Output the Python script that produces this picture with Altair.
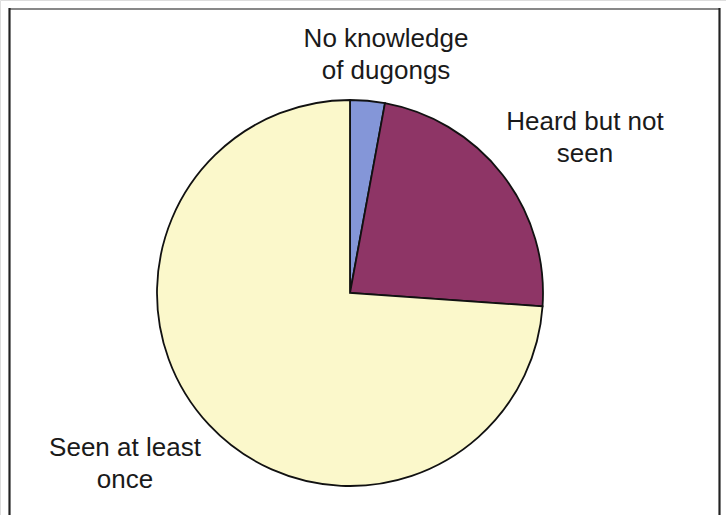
import altair as alt
import pandas as pd

# Survey responses: awareness of dugongs (share of respondents, %)
categories = ["No knowledge of dugongs", "Heard but not seen", "Seen at least once"]
label_lines = ["No knowledge\nof dugongs", "Heard but not\nseen", "Seen at least\nonce"]
shares = [2.9, 23.2, 73.9]
slice_order = [1, 2, 3]
colors = ["#8496d8", "#8e3566", "#fbf8cb"]

df = pd.DataFrame({
    "category": categories,
    "label": label_lines,
    "share": shares,
    "order": slice_order,
})

W, H = 726, 515
CX, CY, R = 350, 293, 193

base = alt.Chart(df)

pie = base.mark_arc(outerRadius=R, stroke="#111111", strokeWidth=1.8).encode(
    theta=alt.Theta("share:Q", stack=True),
    order=alt.Order("order:Q"),
    color=alt.Color("category:N", scale=alt.Scale(domain=categories, range=colors), legend=None),
    x=alt.value(CX),
    y=alt.value(CY),
)

text_style = dict(font="Liberation Sans", fontSize=26, color="#1a1a1a",
                  align="center", baseline="alphabetic", lineBreak="\n", lineHeight=32)

def label(cat, x, y):
    return base.transform_filter(alt.datum.category == cat).mark_text(**text_style).encode(
        text="label:N", x=alt.value(x), y=alt.value(y)
    )

labels = (
    label(categories[0], 386, 47)
    + label(categories[1], 585, 130)
    + label(categories[2], 125, 456)
)

# Frame around the figure
top_rule = base.mark_rule(color="#888888", strokeWidth=2).encode(
    x=alt.value(9), x2=alt.value(720), y=alt.value(9)
)
left_rule = base.mark_rule(color="#222222", strokeWidth=1.5).encode(
    x=alt.value(9.5), y=alt.value(8), y2=alt.value(H)
)
right_rule = base.mark_rule(color="#222222", strokeWidth=1.5).encode(
    x=alt.value(719.5), y=alt.value(8), y2=alt.value(H)
)

chart = (
    alt.layer(pie, labels, top_rule, left_rule, right_rule)
    .properties(width=W, height=H, padding=0, autosize=alt.AutoSizeParams(type="none"))
    .configure_view(stroke=None)
    .configure(background="white")
)

chart.save("out.html", embed_options={"renderer": "svg", "actions": False})
